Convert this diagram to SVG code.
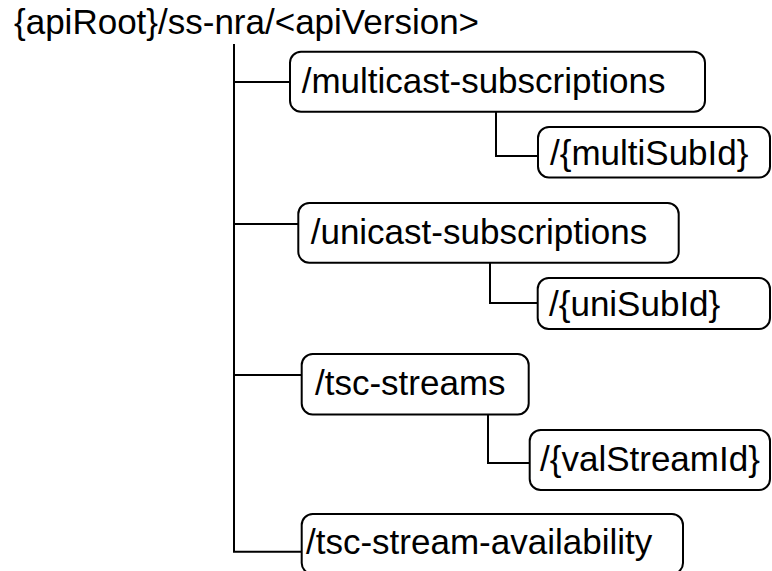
<svg xmlns="http://www.w3.org/2000/svg" width="772" height="571" viewBox="0 0 772 571">
<style>
.box{fill:#fff;stroke:#000;stroke-width:2}
.t{font-family:"Liberation Sans",Arial,sans-serif;font-size:35px;fill:#000}
.c{fill:none;stroke:#000;stroke-width:2}
</style>
<rect width="772" height="571" fill="#fff"/>
<g id="connectors">
<path class="c" d="M234,44 V551.7 H301.7"/>
<path class="c" d="M234,82 H290"/>
<path class="c" d="M234,224 H298.3"/>
<path class="c" d="M234,375 H301.7"/>
<path class="c" d="M496,111.7 V156 H538"/>
<path class="c" d="M490,263 V303 H537.7"/>
<path class="c" d="M488,414.5 V463 H529.7"/>
</g>
<g id="root"><text class="t" x="14" y="34">{apiRoot}/ss-nra/&lt;apiVersion&gt;</text></g>
<g id="multicast"><rect class="box" x="290" y="51.7" width="415" height="60" rx="11"/><text class="t" x="301.7" y="92.5">/multicast-subscriptions</text></g>
<g id="multiSubId"><rect class="box" x="538" y="127" width="232" height="50.5" rx="11"/><text class="t" x="550" y="164.5">/{multiSubId}</text></g>
<g id="unicast"><rect class="box" x="298.3" y="203" width="380.4" height="59.7" rx="11"/><text class="t" x="310.7" y="244">/unicast-subscriptions</text></g>
<g id="uniSubId"><rect class="box" x="537.7" y="278" width="232.3" height="51" rx="11"/><text class="t" x="549" y="316">/{uniSubId}</text></g>
<g id="tscStreams"><rect class="box" x="301.7" y="354" width="227" height="60.5" rx="11"/><text class="t" x="315" y="395">/tsc-streams</text></g>
<g id="valStreamId"><rect class="box" x="529.7" y="430" width="240.3" height="60" rx="11"/><text class="t" x="540" y="471">/{valStreamId}</text></g>
<g id="tscStreamAvailability"><rect class="box" x="301.7" y="514" width="381.3" height="60" rx="11"/><text class="t" x="306" y="554">/tsc-stream-availability</text></g>
</svg>
